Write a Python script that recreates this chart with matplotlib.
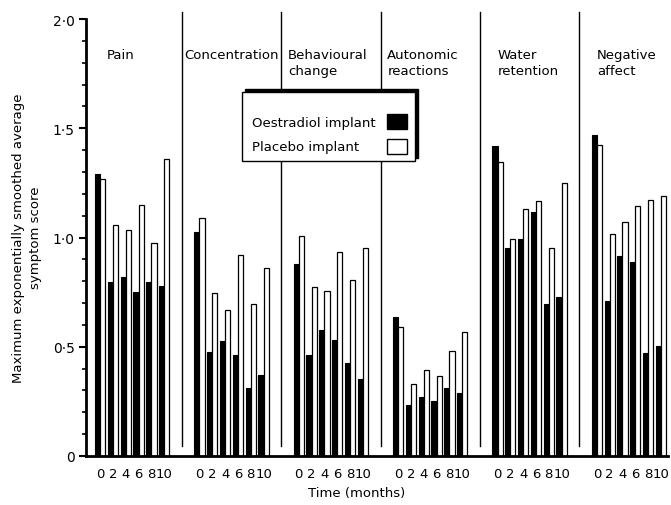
import numpy as np
import matplotlib
matplotlib.use("Agg")
import matplotlib.pyplot as plt
from matplotlib.patches import Rectangle
from matplotlib.ticker import MultipleLocator, FixedLocator

# Symptom groups and time points (months)
categories = ["Pain", "Concentration", "Behavioural\nchange", "Autonomic\nreactions",
              "Water\nretention", "Negative\naffect"]
months = [0, 2, 4, 6, 8, 10]
month_labels = ["0", "2", "4", "6", "8", "10"]

# Maximum exponentially smoothed average symptom score
oestradiol = [
    [1.29, 0.795, 0.82, 0.75, 0.795, 0.78],     # pain
    [1.027, 0.474, 0.528, 0.464, 0.31, 0.372],  # concentration
    [0.877, 0.464, 0.577, 0.531, 0.427, 0.352], # behavioural change
    [0.635, 0.235, 0.268, 0.25, 0.31, 0.287],   # autonomic reactions
    [1.42, 0.953, 0.993, 1.115, 0.696, 0.726],  # water retention
    [1.469, 0.708, 0.917, 0.886, 0.471, 0.505], # negative affect
]
placebo = [
    [1.27, 1.057, 1.036, 1.149, 0.973, 1.36],
    [1.088, 0.746, 0.67, 0.92, 0.694, 0.862],
    [1.008, 0.775, 0.754, 0.932, 0.805, 0.95],
    [0.589, 0.331, 0.395, 0.366, 0.479, 0.566],
    [1.347, 0.993, 1.13, 1.168, 0.95, 1.249],
    [1.423, 1.016, 1.07, 1.143, 1.172, 1.191],
]

# layout
panel_gap = 15.5
bar_w = 0.8
title_x = [1.1, 13.1, 29.3, 44.8, 62.0, 77.5]

plt.rcParams['font.family'] = ['DejaVu Sans']

fig = plt.figure(figsize=(6.71, 5.06), dpi=100)
ax = fig.add_axes([86 / 671, 1 - 457 / 506, 582 / 671, 437 / 506])

tick_pos = []
for k, name in enumerate(categories):
    x = k * panel_gap + np.array(months, dtype=float)
    ax.bar(x - bar_w / 2, oestradiol[k], width=bar_w, color="black",
           edgecolor="black", linewidth=0.8)
    ax.bar(x + bar_w / 2, placebo[k], width=bar_w, color="white",
           edgecolor="black", linewidth=0.9)
    tick_pos.extend(x)
    ax.text(title_x[k], 1.865, name, fontsize=9.5, va="top", ha="left",
            linespacing=1.25)
    if k < len(categories) - 1:
        sep = k * panel_gap + 12.75
        ax.plot([sep, sep], [0.046, 2.03], color="black", lw=1.0, clip_on=False)

ax.set_xlim(-2.2, 88.6)
ax.set_ylim(0, 2.0)

ax.xaxis.set_major_locator(FixedLocator(tick_pos))
ax.set_xticklabels(month_labels * len(categories), fontsize=9.5)
ax.tick_params(axis="x", length=0, pad=8)

ax.set_yticks([0, 0.5, 1.0, 1.5, 2.0])
ax.set_yticklabels(["0", "0·5", "1·0", "1·5", "2·0"], fontsize=10)
ax.yaxis.set_minor_locator(MultipleLocator(0.1))
ax.tick_params(axis="y", which="major", direction="out", length=5, width=1.5, pad=3)
ax.tick_params(axis="y", which="minor", direction="out", length=3, width=1.2)

for side in ["top", "right"]:
    ax.spines[side].set_visible(False)
ax.spines["left"].set_linewidth(2)
ax.spines["bottom"].set_linewidth(2)

fig.text(27 / 671, 1 - 238 / 506,
         "Maximum exponentially smoothed average\nsymptom score",
         rotation=90, ha="center", va="center", fontsize=9.5,
         multialignment="center", linespacing=1.3)
fig.text(357 / 671, 1 - 494 / 506, "Time (months)", ha="center", va="center",
         fontsize=9.5)

# legend box with a drop shadow
W, H = 671.0, 506.0
bx, by, bw, bh = 242 / W, 1 - 162 / H, 173 / W, 69 / H
fig.patches.append(Rectangle((bx + 3 / W, by + 3 / H), bw, bh, transform=fig.transFigure,
                             facecolor="black", edgecolor="black", zorder=5))
fig.patches.append(Rectangle((bx, by), bw, bh, transform=fig.transFigure,
                             facecolor="white", edgecolor="black", lw=1.0, zorder=6))
fig.text(252 / W, 1 - 123 / H, "Oestradiol implant", fontsize=9.5, va="center",
         zorder=7)
fig.text(252 / W, 1 - 148 / H, "Placebo implant", fontsize=9.5, va="center",
         zorder=7)
fig.patches.append(Rectangle((387 / W, 1 - 130 / H), 20 / W, 15 / H,
                             transform=fig.transFigure, facecolor="black",
                             edgecolor="black", lw=1.0, zorder=7))
fig.patches.append(Rectangle((387 / W, 1 - 155 / H), 20 / W, 15 / H,
                             transform=fig.transFigure, facecolor="white",
                             edgecolor="black", lw=1.0, zorder=7))

fig.savefig("out.png", dpi=100)
